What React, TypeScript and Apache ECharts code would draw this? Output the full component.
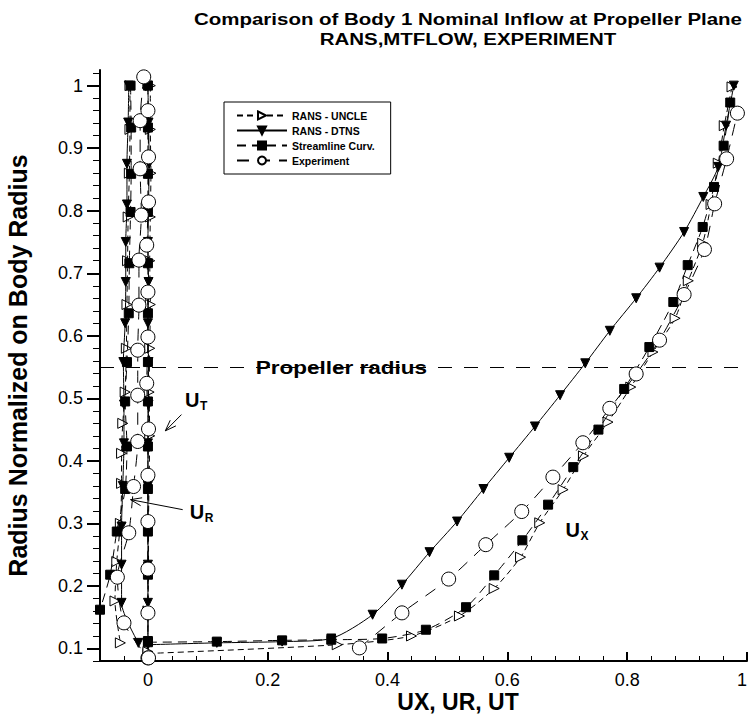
import React, { useEffect, useRef } from "react";
import * as echarts from "echarts";

const TITLE_LINES = ["Comparison of Body 1 Nominal Inflow at Propeller Plane", "RANS,MTFLOW, EXPERIMENT"];
const X_AXIS_NAME = "UX, UR, UT";
const Y_AXIS_NAME = "Radius Normalized on Body Radius";
const SERIES_NAMES = ["RANS - UNCLE", "RANS - DTNS", "Streamline Curv.", "Experiment"];
const PROPELLER_LABEL = "Propeller radius";
const PROPELLER_RADIUS = 0.548;

const X_MIN = -0.08;
const X_MAX = 1;
const Y_MIN = 0.08;
const Y_MAX = 1.025;
const xMajorTicks = [0, 0.2, 0.4, 0.6, 0.8, 1];
const xMinorTicks = [-0.04, 0.04, 0.08, 0.12, 0.16, 0.24, 0.28, 0.32, 0.36, 0.44, 0.48, 0.52, 0.56, 0.64, 0.68, 0.72, 0.76, 0.84, 0.88, 0.92, 0.96];
const yMajorTicks = [0.1, 0.2, 0.3, 0.4, 0.5, 0.6, 0.7, 0.8, 0.9, 1];
const yMinorTicks = [0.08, 0.12, 0.14, 0.16, 0.18, 0.22, 0.24, 0.26, 0.28, 0.32, 0.34, 0.36, 0.38, 0.42, 0.44, 0.46, 0.48, 0.52, 0.54, 0.56, 0.58, 0.62, 0.64, 0.66, 0.68, 0.72, 0.74, 0.76, 0.78, 0.82, 0.84, 0.86, 0.88, 0.92, 0.94, 0.96, 0.98, 1.02];

// [U, r] pairs
const uncleUX = [[0.0, 0.092], [0.316, 0.106], [0.44, 0.12], [0.52, 0.152], [0.578, 0.196], [0.622, 0.246], [0.654, 0.301], [0.693, 0.354], [0.727, 0.408], [0.768, 0.462], [0.806, 0.518], [0.843, 0.574], [0.88, 0.628], [0.902, 0.688], [0.926, 0.748], [0.94, 0.81], [0.952, 0.876], [0.962, 0.936], [0.975, 0.998]];
const uncleUR = [[-0.03, 1.0], [-0.03, 0.93], [-0.031, 0.86], [-0.033, 0.79], [-0.034, 0.72], [-0.035, 0.65], [-0.036, 0.58], [-0.038, 0.51], [-0.042, 0.46], [-0.044, 0.412], [-0.044, 0.364], [-0.046, 0.3], [-0.052, 0.239], [-0.055, 0.176], [-0.046, 0.109]];
const uncleUT = [[0.004, 1.0], [0.004, 0.93], [0.005, 0.86], [0.004, 0.79], [0.003, 0.72], [0.004, 0.65], [0.003, 0.58], [0.002, 0.51], [0.003, 0.44], [0.002, 0.37], [0.001, 0.3], [0.001, 0.23], [0.0, 0.16], [0.0, 0.095]];

const dtnsUX = [[0.0, 0.106], [0.115, 0.109], [0.224, 0.111], [0.306, 0.116], [0.375, 0.154], [0.424, 0.202], [0.47, 0.254], [0.516, 0.303], [0.56, 0.355], [0.603, 0.405], [0.646, 0.455], [0.688, 0.505], [0.73, 0.556], [0.771, 0.608], [0.815, 0.66], [0.854, 0.709], [0.895, 0.766], [0.927, 0.822], [0.952, 0.87], [0.965, 0.936], [0.978, 1.0]];
const dtnsUR = [[-0.032, 1.0], [-0.033, 0.941], [-0.035, 0.875], [-0.035, 0.81], [-0.037, 0.75], [-0.037, 0.686], [-0.038, 0.62], [-0.041, 0.558], [-0.04, 0.49], [-0.04, 0.428], [-0.042, 0.36], [-0.044, 0.295], [-0.044, 0.234], [-0.044, 0.173], [-0.016, 0.109]];
const dtnsUT = [[0.0, 1.0], [0.001, 0.941], [0.002, 0.875], [0.001, 0.81], [0.0, 0.75], [0.001, 0.686], [0.0, 0.62], [0.001, 0.558], [0.001, 0.49], [0.0, 0.428], [0.0, 0.36], [0.0, 0.295], [0.0, 0.234], [0.0, 0.173], [0.0, 0.109]];

const streamUX = [[0.0, 0.11], [0.115, 0.111], [0.224, 0.113], [0.306, 0.114], [0.391, 0.116], [0.464, 0.13], [0.531, 0.166], [0.578, 0.217], [0.625, 0.273], [0.668, 0.33], [0.71, 0.39], [0.752, 0.45], [0.795, 0.515], [0.837, 0.582], [0.877, 0.654], [0.901, 0.713], [0.926, 0.774], [0.945, 0.838], [0.961, 0.904], [0.972, 0.973]];
const streamUR = [[-0.029, 1.0], [-0.028, 0.933], [-0.028, 0.859], [-0.029, 0.798], [-0.031, 0.716], [-0.032, 0.636], [-0.035, 0.558], [-0.038, 0.495], [-0.035, 0.423], [-0.038, 0.355], [-0.052, 0.287], [-0.063, 0.218], [-0.08, 0.162]];
const streamUT = [[0.0, 1.0], [0.0, 0.933], [0.0, 0.859], [0.0, 0.798], [0.0, 0.716], [0.0, 0.636], [0.0, 0.558], [0.0, 0.495], [0.0, 0.423], [0.0, 0.355], [0.0, 0.287], [0.0, 0.218], [0.0, 0.112]];

const expUX = [[0.353, 0.101], [0.424, 0.157], [0.502, 0.211], [0.564, 0.266], [0.624, 0.319], [0.676, 0.374], [0.726, 0.429], [0.771, 0.484], [0.815, 0.539], [0.854, 0.593], [0.895, 0.666], [0.929, 0.738], [0.946, 0.811], [0.966, 0.883], [0.984, 0.956]];
const expUR = [[-0.007, 1.014], [-0.013, 0.944], [-0.013, 0.867], [-0.011, 0.793], [-0.015, 0.721], [-0.015, 0.649], [-0.017, 0.577], [-0.017, 0.505], [-0.017, 0.431], [-0.024, 0.359], [-0.032, 0.285], [-0.051, 0.214], [-0.04, 0.141], [0.0, 0.085]];
const expUT = [[0.0, 0.96], [0.001, 0.886], [0.001, 0.814], [-0.002, 0.745], [0.0, 0.67], [0.0, 0.598], [-0.002, 0.524], [0.001, 0.451], [0.0, 0.377], [0.0, 0.303], [0.0, 0.227], [0.0, 0.157], [0.001, 0.085]];

// annotation anchors (data coordinates)
const U_T_LABEL = [0.062, 0.497];
const U_T_ARROW = [[0.056, 0.474], [0.029, 0.448]];
const U_R_LABEL = [0.07, 0.318];
const U_R_ARROW = [[0.058, 0.322], [-0.029, 0.338]];
const U_X_LABEL = [0.697, 0.29];
const PROPELLER_LABEL_U = 0.18;

const FONT = "'Liberation Sans', Arial, Helvetica, sans-serif";
const BLACK = "#000";

const SYM_RIGHT_TRI = "path://M0,0L10,5L0,10Z";
const SYM_DOWN_TRI = "path://M0,0L10,0L5,10Z";

const styles = [
  { symbol: SYM_RIGHT_TRI, size: 10, fill: "#fff", line: [6, 4] as any, width: 1 },
  { symbol: SYM_DOWN_TRI, size: 9, fill: BLACK, line: "solid" as any, width: 1 },
  { symbol: "rect", size: 9, fill: BLACK, line: [9, 6] as any, width: 1 },
  { symbol: "circle", size: 14, fill: "#fff", line: [12, 9] as any, width: 1 },
];

const families = [
  [uncleUX, uncleUR, uncleUT],
  [dtnsUX, dtnsUR, dtnsUT],
  [streamUX, streamUR, streamUT],
  [expUX, expUR, expUT],
];

function buildSeries() {
  const out: any[] = [];
  families.forEach((fam, fi) => {
    const st = styles[fi];
    fam.forEach((data, ci) => {
      out.push({
        type: "line",
        name: SERIES_NAMES[fi],
        xAxisIndex: 0,
        yAxisIndex: 0,
        data,
        symbol: st.symbol,
        symbolSize: st.size,
        showAllSymbol: true,
        smooth: 0.25,
        clip: false,
        z: 2 + fi,
        itemStyle: { color: st.fill, borderColor: BLACK, borderWidth: 1 },
        lineStyle: { color: BLACK, width: st.width, type: st.line },
        emphasis: { disabled: true },
        markLine:
          fi === 0 && ci === 0
            ? {
                silent: true,
                symbol: "none",
                label: { show: false },
                lineStyle: { color: BLACK, width: 1, type: [14, 12] },
                data: [{ yAxis: PROPELLER_RADIUS }],
              }
            : undefined,
      });
    });
  });
  return out;
}

function arrow(tail: number[], head: number[]) {
  const dx = head[0] - tail[0];
  const dy = head[1] - tail[1];
  const len = Math.hypot(dx, dy) || 1;
  const ux = dx / len;
  const uy = dy / len;
  const hl = 11;
  const hw = 4;
  const bx = head[0] - ux * hl;
  const by = head[1] - uy * hl;
  return [
    { type: "line", silent: true, shape: { x1: tail[0], y1: tail[1], x2: head[0], y2: head[1] }, style: { stroke: BLACK, lineWidth: 1 } },
    {
      type: "polyline",
      silent: true,
      shape: { points: [[bx - uy * hw, by + ux * hw], head, [bx + uy * hw, by - ux * hw]] },
      style: { stroke: BLACK, fill: null, lineWidth: 1 },
    },
  ];
}

export default function App() {
  const ref = useRef<HTMLDivElement>(null);
  useEffect(() => {
    if (!ref.current) return;
    const chart = echarts.init(ref.current, null, { renderer: "svg" });
    const option: any = {
      animation: false,
      backgroundColor: "#fff",
      textStyle: { fontFamily: FONT },
      grid: { left: 100, right: 2, top: 70, bottom: 58, containLabel: false, outerBoundsMode: "none" },
      legend: {
        data: SERIES_NAMES,
        orient: "vertical",
        left: 224,
        top: 102,
        padding: [8, 16, 8, 12],
        itemGap: 4,
        itemWidth: 50,
        itemHeight: 10,
        borderColor: BLACK,
        borderWidth: 1,
        backgroundColor: "#fff",
        selectedMode: false,
        textStyle: { fontFamily: FONT, fontSize: 10.5, fontWeight: "bold", color: BLACK },
      },
      xAxis: [
        {
          type: "value",
          min: X_MIN,
          max: X_MAX,
          position: "bottom",
          axisLine: { show: true, onZero: false, lineStyle: { color: BLACK, width: 2 } },
          axisTick: { show: true, inside: true, length: 9, customValues: xMajorTicks, lineStyle: { color: BLACK, width: 2 } },
          axisLabel: { show: true, customValues: xMajorTicks, color: BLACK, fontSize: 18, fontFamily: FONT, margin: 10, hideOverlap: false, alignMaxLabel: "right" },
          splitLine: { show: false },
        },
        {
          type: "value",
          min: X_MIN,
          max: X_MAX,
          position: "bottom",
          axisLine: { show: false, onZero: false },
          axisTick: { show: true, inside: true, length: 5, customValues: xMinorTicks, lineStyle: { color: BLACK, width: 1 } },
          axisLabel: { show: false },
          splitLine: { show: false },
        },
      ],
      yAxis: [
        {
          type: "value",
          min: Y_MIN,
          max: Y_MAX,
          position: "left",
          name: Y_AXIS_NAME,
          nameLocation: "middle",
          nameRotate: 90,
          nameGap: 70,
          nameTextStyle: { fontFamily: FONT, fontSize: 25, fontWeight: "bold", color: BLACK },
          axisLine: { show: true, onZero: false, lineStyle: { color: BLACK, width: 2 } },
          axisTick: { show: true, inside: false, length: 13, customValues: yMajorTicks, lineStyle: { color: BLACK, width: 2 } },
          axisLabel: { show: true, customValues: yMajorTicks, color: BLACK, fontSize: 18, fontFamily: FONT, margin: 17 },
          splitLine: { show: false },
        },
        {
          type: "value",
          min: Y_MIN,
          max: Y_MAX,
          position: "left",
          axisLine: { show: false, onZero: false },
          axisTick: { show: true, inside: false, length: 7, customValues: yMinorTicks, lineStyle: { color: BLACK, width: 1 } },
          axisLabel: { show: false },
          splitLine: { show: false },
        },
      ],
      series: buildSeries(),
    };
    chart.setOption(option);

    const px = (p: number[]) => chart.convertToPixel({ xAxisIndex: 0, yAxisIndex: 0 }, p) as number[];
    const ut = px(U_T_LABEL);
    const ur = px(U_R_LABEL);
    const ux = px(U_X_LABEL);
    const prop = px([PROPELLER_LABEL_U, PROPELLER_RADIUS]);
    const subFont = `bold 12px ${FONT}`;
    const bigFont = `bold 20px ${FONT}`;
    const graphic: any[] = [
      {
        type: "text",
        x: 468,
        y: 9,
        scaleX: 1.28,
        style: {
          text: TITLE_LINES.join("\n"),
          font: `bold 16px ${FONT}`,
          fill: BLACK,
          textAlign: "center",
          lineHeight: 20,
        },
      },
      {
        type: "text",
        x: 458,
        y: 690,
        style: { text: X_AXIS_NAME, font: `bold 23px ${FONT}`, fill: BLACK, textAlign: "center" },
      },
      {
        type: "rect",
        silent: true,
        shape: { x: prop[0] - 10, y: prop[1] - 3, width: 212, height: 6 },
        style: { fill: "#fff" },
      },
      {
        type: "text",
        x: prop[0],
        y: prop[1],
        scaleX: 1.25,
        style: {
          text: PROPELLER_LABEL,
          font: `bold 18px ${FONT}`,
          fill: BLACK,
          textAlign: "left",
          textVerticalAlign: "middle",
        },
      },
      { type: "text", x: ut[0], y: ut[1], style: { text: "U", font: bigFont, fill: BLACK, textVerticalAlign: "middle" } },
      { type: "text", x: ut[0] + 15, y: ut[1] + 6, style: { text: "T", font: subFont, fill: BLACK, textVerticalAlign: "middle" } },
      { type: "text", x: ur[0], y: ur[1], style: { text: "U", font: bigFont, fill: BLACK, textVerticalAlign: "middle" } },
      { type: "text", x: ur[0] + 15, y: ur[1] + 6, style: { text: "R", font: subFont, fill: BLACK, textVerticalAlign: "middle" } },
      { type: "text", x: ux[0], y: ux[1], style: { text: "U", font: bigFont, fill: BLACK, textVerticalAlign: "middle" } },
      { type: "text", x: ux[0] + 15, y: ux[1] + 6, style: { text: "X", font: subFont, fill: BLACK, textVerticalAlign: "middle" } },
      ...arrow(px(U_T_ARROW[0]), px(U_T_ARROW[1])),
      ...arrow(px(U_R_ARROW[0]), px(U_R_ARROW[1])),
    ];
    chart.setOption({ graphic });
    return () => chart.dispose();
  }, []);
  return <div ref={ref} style={{ position: "fixed", left: 0, top: 0, width: 749, height: 719 }} />;
}
